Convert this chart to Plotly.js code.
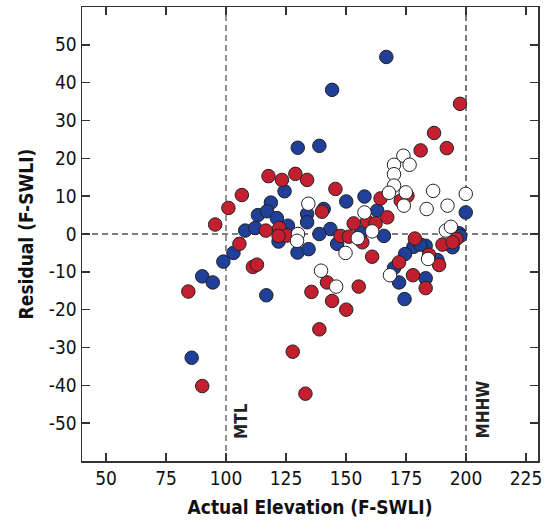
<!DOCTYPE html>
<html>
<head>
<meta charset="utf-8">
<script src="https://cdn.plot.ly/plotly-3.0.1.min.js"></script>
<style>
  html, body { margin: 0; padding: 0; background: #fff; }
  #chart { width: 545px; height: 529px; }
</style>
</head>
<body>
<div id="chart"></div>
<script>
// Blue series
const blueX = [129.9,166.8,144.2,138.9,124.4,118.7,113.3,117.1,121.2,108.0,112.2,125.8,133.8,133.8,150.1,157.7,199.9,140.7,163.0,143.5,138.9,156.3,165.8,197.1,103.1,98.9,90.1,94.5,116.8,121.9,129.8,134.4,85.7,146.3,178.1,183.2,188.1,194.4,197.6,174.6,170.0,172.1,183.2,174.4,181.0];
const blueY = [22.8,46.8,38.1,23.3,11.3,8.3,5.0,6.0,4.2,0.9,1.6,2.2,5.3,3.1,8.6,9.9,5.7,6.6,6.2,1.3,0.0,0.4,-0.5,0.2,-5.0,-7.3,-11.2,-12.8,-16.2,-2.0,-4.9,-4.0,-32.7,-2.6,-3.4,-3.1,-6.9,-3.5,-0.5,-5.3,-9.0,-12.8,-11.7,-17.2,-2.8];
// Red series
const redX = [117.7,123.3,128.9,133.8,106.6,101.0,95.5,116.6,122.2,125.4,197.5,186.7,181.1,192.0,145.6,175.6,164.4,140.0,153.2,158.8,162.3,167.2,147.7,151.2,178.7,196.0,105.6,111.2,112.9,121.9,135.6,90.1,127.8,133.1,84.3,156.8,160.9,142.1,155.3,144.2,150.1,138.9,184.6,188.8,190.2,194.4,172.1,177.9,183.2,172.8];
const redY = [15.3,14.3,15.9,14.3,10.3,6.9,2.5,0.9,1.6,-0.4,34.4,26.7,22.1,22.7,11.9,10.1,9.4,5.9,2.8,3.3,2.8,4.4,-0.5,-0.7,-1.2,-1.3,-2.6,-8.7,-8.1,-0.5,-15.3,-40.2,-31.1,-42.2,-15.2,-2.2,-6.0,-12.8,-13.9,-17.7,-20.0,-25.2,-5.5,-8.2,-2.8,-2.2,-7.5,-10.9,-14.3,8.8];
// White series
const whiteX = [130.0,134.3,173.9,170.0,176.5,170.0,170.0,167.9,174.9,174.1,186.3,183.6,192.3,199.9,157.7,160.9,154.9,191.6,193.7,129.6,149.8,139.6,145.9,168.3,184.2];
const whiteY = [0.0,8.0,20.7,18.3,18.3,15.8,12.8,10.9,11.0,7.5,11.4,6.6,7.5,10.6,5.7,0.7,-1.1,0.9,1.9,-1.8,-5.0,-9.7,-13.9,-10.9,-6.6];

const xTicks = [50,75,100,125,150,175,200,225];
const yTicks = [-50,-40,-30,-20,-10,0,10,20,30,40,50];
const refLinesX = [100,200];
const refLabels = ['MTL','MHHW'];

const FONT = '"Liberation Sans Narrow", "DejaVu Sans Condensed", "Roboto Condensed", Arial, sans-serif';

function series(x, y, color) {
  return {
    type: 'scatter', mode: 'markers', x: x, y: y, showlegend: false,
    marker: { size: 13.5, color: color, line: { color: '#222', width: 1 } },
    hoverinfo: 'skip'
  };
}

const data = [
  series(blueX, blueY, '#1f3f99'),
  series(redX, redY, '#c41f2e'),
  series(whiteX, whiteY, '#ffffff')
];

const shapes = [
  { type: 'line', xref: 'x', yref: 'paper', x0: refLinesX[0], x1: refLinesX[0], y0: 0, y1: 1, line: { color: '#555', width: 1.3, dash: '6px,4px' }, layer: 'below' },
  { type: 'line', xref: 'x', yref: 'paper', x0: refLinesX[1], x1: refLinesX[1], y0: 0, y1: 1, line: { color: '#333', width: 1.3, dash: '6px,4px' }, layer: 'below' },
  { type: 'line', xref: 'paper', yref: 'y', x0: 0, x1: 1, y0: 0, y1: 0, line: { color: '#555', width: 1.3, dash: '6px,4px' }, layer: 'below' }
];

const annotations = [
  { x: 106.3, y: -49.4, xref: 'x', yref: 'y', text: '<b>' + refLabels[0] + '</b>', showarrow: false, textangle: -90, font: { family: FONT, size: 17, color: '#222' } },
  { x: 206.9, y: -46.5, xref: 'x', yref: 'y', text: '<b>' + refLabels[1] + '</b>', showarrow: false, textangle: -90, font: { family: FONT, size: 17, color: '#222' } }
];

const layout = {
  width: 545, height: 529,
  margin: { l: 82, r: 7, t: 7, b: 68 },
  paper_bgcolor: '#fff', plot_bgcolor: '#fff',
  font: { family: FONT, size: 18, color: '#111' },
  xaxis: {
    range: [40, 230], tickvals: xTicks, ticktext: xTicks.map(String),
    ticks: 'inside', ticklen: 8, tickwidth: 1.5, tickcolor: '#333',
    showline: true, linecolor: '#333', linewidth: 1.5, mirror: 'ticks',
    showgrid: false, zeroline: false,
    tickfont: { family: FONT, size: 19, color: '#111' },
    title: { text: '<b>Actual Elevation (F-SWLI)</b>', font: { family: FONT, size: 19, color: '#111' }, standoff: 12 }
  },
  yaxis: {
    range: [-60, 60], tickvals: yTicks, ticktext: yTicks.map(String),
    ticks: 'inside', ticklen: 8, tickwidth: 1.5, tickcolor: '#333',
    showline: true, linecolor: '#333', linewidth: 1.5, mirror: 'ticks',
    showgrid: false, zeroline: false,
    tickfont: { family: FONT, size: 19, color: '#111' },
    title: { text: '<b>Residual (F-SWLI)</b>', font: { family: FONT, size: 19, color: '#111' }, standoff: 10 }
  },
  shapes: shapes,
  annotations: annotations
};

Plotly.newPlot('chart', data, layout, { displayModeBar: false, staticPlot: true });
</script>
</body>
</html>
